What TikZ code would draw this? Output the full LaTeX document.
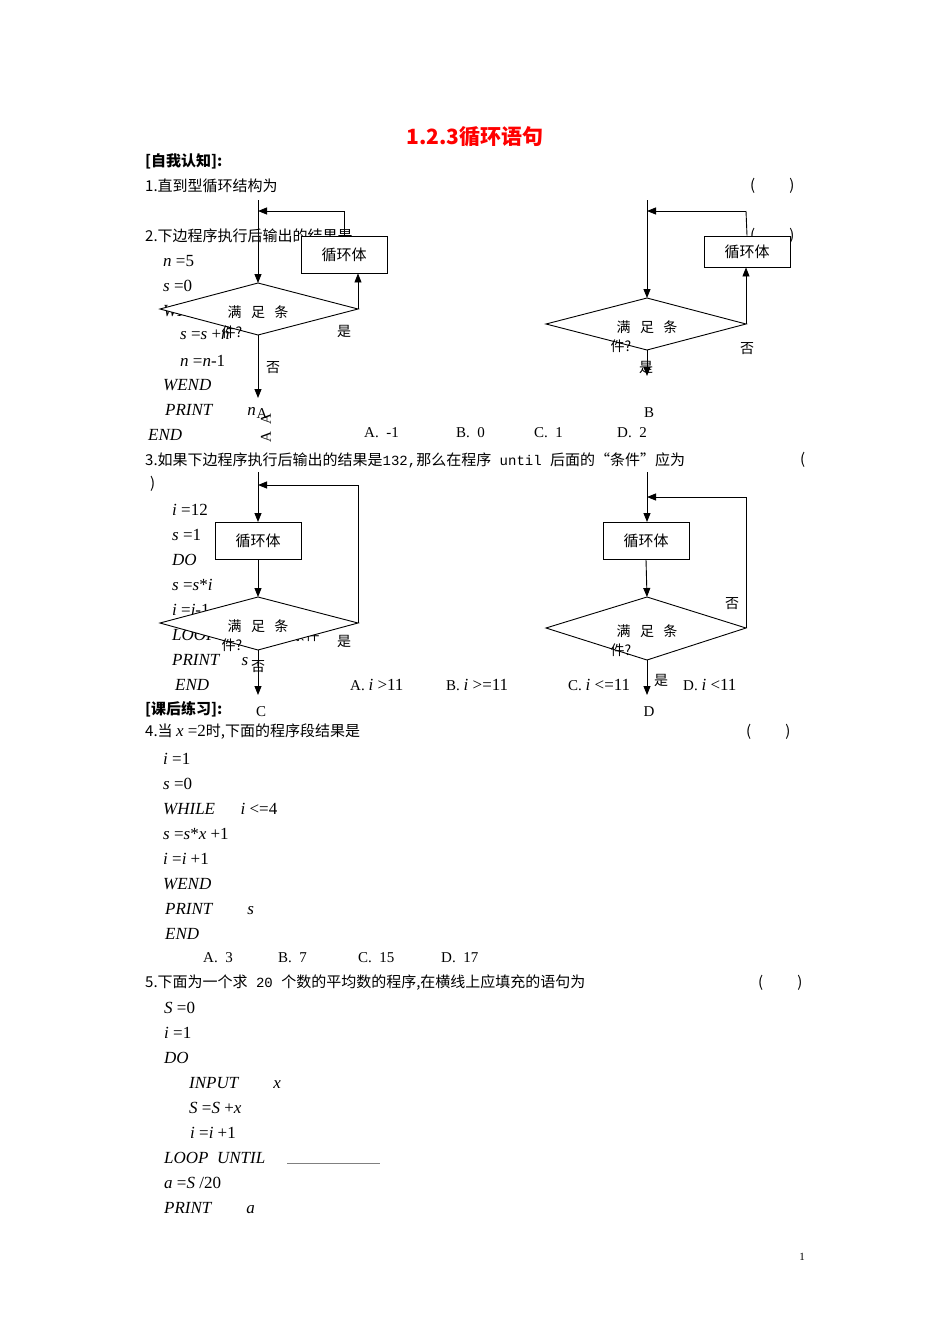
\documentclass[tikz,border=0pt]{standalone}
\usepackage{fontspec}
\setmainfont{Noto Sans CJK SC}
\newfontfamily\tms{Liberation Serif}
\newfontfamily\mon{Liberation Mono}
\newcommand{\vi}[1]{\textit{#1}}
\usetikzlibrary{arrows.meta}
\begin{document}
\begin{tikzpicture}[x=1pt,y=-1pt,
  txt/.style={anchor=west,inner sep=0pt,font=\fontsize{15}{17}\selectfont},
  cd/.style={anchor=west,inner sep=0pt,font=\fontsize{17}{19}\tms\selectfont},
  bx/.style={draw,fill=white,line width=0.9pt,minimum width=86pt,minimum height=37pt,inner sep=0pt,font=\fontsize{15}{17}\selectfont},
  dm/.style={draw,fill=white,line width=0.9pt},
  ln/.style={line width=0.9pt},
  ar/.style={line width=0.9pt,-{Triangle[length=9pt,width=7pt]}},
  lb/.style={inner sep=0pt,font=\fontsize{14}{16}\selectfont},
  lt/.style={inner sep=0pt,font=\fontsize{15}{17}\tms\selectfont}]
\useasboundingbox (0,0) rectangle (950,1344);
\node[inner sep=0pt,text=red,font=\fontsize{21}{23}\selectfont\bfseries] (title) at (475,137) {1.2.3循环语句};
\node[txt,font=\fontsize{15}{17}\selectfont\bfseries] (h1) at (145,161) {[自我认知]:};
\node[txt] (q1) at (145,186) {1.直到型循环结构为};
\node[txt] (p1) at (750,186) {(\hspace{34pt})};
\node[txt] (q2) at (145,236) {2.下边程序执行后输出的结果是};
\node[txt] (p2) at (750,236) {(\hspace{34pt})};
\node[cd] (c1) at (163,261) {\vi{n} =5};
\node[cd] (c2) at (163,286) {\vi{s} =0};
\node[cd] (c3) at (163,311) {\vi{WHILE}\quad \vi{i} {\rmfamily >}0};
% flowchart A
\draw[ar] (258,200) -- (258,283);
\path[dm] (160,309) -- (258,283) -- (358,309) -- (258,335) -- cycle;
\node[bx] (boxA) at (344,254.5) {循环体};
\coordinate (ra) at (358,309);
\draw[ar] (ra) -- (boxA.south -| ra);
\coordinate (ta) at (344,211);
\draw[ln] (boxA.north) -- (ta);
\coordinate (la) at (258,211);
\draw[ar] (ta) -- (la);
\node[lb] (dA1) at (258,312) {满\ \ \ 足\ \ \ 条};
\node[lb] (dA2) at (232,332) {件?};
\node[cd] (c4) at (180,335) {\vi{s} =\vi{s} +\vi{n}};
\node[cd] (c5) at (180,361) {\vi{n} =\vi{n}-1};
\draw[ar] (258,335) -- (258,398);
\node[lb] (nA) at (273,368) {否};
\node[lb] (yA) at (344,331) {是};
\node[cd] (c6) at (163,385) {\vi{WEND}};
\node[cd] (c7) at (165,410) {\vi{PRINT}\qquad \vi{n}};
\node[lt] (A) at (262,414) {A};
\node[lt,rotate=90] (Ar) at (266,428) {A\ \ A};
\node[cd] (c8) at (148,435) {\vi{END}};
\node[lt,anchor=west] (a2a) at (364,433) {A.\ \ -1};
\node[lt,anchor=west] (a2b) at (456,433) {B.\ \ 0};
\node[lt,anchor=west] (a2c) at (534,433) {C.\ \ 1};
\node[lt,anchor=west] (a2d) at (617,433) {D.\ \ 2};
% flowchart B
\draw[ar] (647,200) -- (647,298);
\path[dm] (546,324) -- (647,298) -- (746,324) -- (647,350) -- cycle;
\node[bx,minimum height=31pt] (boxB) at (747,251.5) {循环体};
\coordinate (rb) at (746,324);
\draw[ar] (rb) -- (boxB.south -| rb);
\coordinate (tb) at (746,211);
\draw[ln] (boxB.north) -- (tb);
\coordinate (lb) at (647,211);
\draw[ar] (tb) -- (lb);
\node[lb] (dB1) at (647,327) {满\ \ \ 足\ \ \ 条};
\node[lb] (dB2) at (621,346) {件?};
\draw[ar] (647,350) -- (647,376);
\node[lb] (yB) at (646,367) {是};
\node[lb] (nB) at (747,349) {否};
\node[lt] (B) at (649,413) {B};
% question 3
\node[txt] (q3) at (145,460) {3.如果下边程序执行后输出的结果是{\mon\fontsize{14}{16}\selectfont132,}那么在程序{\mon\fontsize{14}{16}\selectfont\ until\ }后面的“条件”应为};
\node[txt] (p3a) at (800,460) {(};
\node[txt] (p3b) at (150,484) {)};
\node[cd] (d1) at (172,510) {\vi{i} =12};
\node[cd] (d2) at (172,535) {\vi{s} =1};
\node[cd] (d3) at (172,560) {\vi{DO}};
\node[cd] (d4) at (172,585) {\vi{s} =\vi{s}*\vi{i}};
\node[cd] (d5) at (172,610) {\vi{i} =\vi{i}-1};
\node[cd] (d6) at (172,635) {\vi{LOOP UNTIL}\ \ {\rmfamily\fontsize{14}{16}\selectfont “条件”}};
% flowchart C
\draw[ar] (258,472) -- (258,522);
\node[bx] (boxC) at (258,540.5) {循环体};
\draw[ar] (boxC.south) -- (258,597);
\path[dm] (160,623) -- (258,597) -- (358,623) -- (258,650) -- cycle;
\coordinate (rc) at (358,623);
\coordinate (tc) at (358,485);
\coordinate (lc) at (258,485);
\draw[ln] (rc) -- (tc);
\draw[ar] (tc) -- (lc);
\node[lb] (dC1) at (258,626) {满\ \ \ 足\ \ \ 条};
\node[lb] (dC2) at (232,645) {件?};
\node[lb] (yC) at (344,641) {是};
\node[cd] (d7) at (172,660) {\vi{PRINT}\quad\ \vi{s}};
\draw[ar] (258,650) -- (258,695);
\node[lb] (nC) at (258,667) {否};
\node[cd] (d8) at (175,685) {\vi{END}};
\node[lt] (C) at (261,712) {C};
\node[lt,anchor=west] (a3a) at (350,685) {A.\ {\fontsize{17}{19}\selectfont\vi{i} >11}};
\node[lt,anchor=west] (a3b) at (446,685) {B.\ {\fontsize{17}{19}\selectfont\vi{i} >=11}};
\node[lt,anchor=west] (a3c) at (568,685) {C.\ {\fontsize{17}{19}\selectfont\vi{i} <=11}};
\node[lt,anchor=west] (a3d) at (683,685) {D.\ {\fontsize{17}{19}\selectfont\vi{i} <11}};
% flowchart D
\draw[ar] (647,472) -- (647,522);
\node[bx] (boxD) at (646,540.5) {循环体};
\draw[ar] (boxD.south) -- (647,597);
\path[dm] (546,628) -- (647,597) -- (746,628) -- (647,660) -- cycle;
\coordinate (rd) at (746,628);
\coordinate (td) at (746,497);
\coordinate (ld) at (647,497);
\draw[ln] (rd) -- (td);
\draw[ar] (td) -- (ld);
\node[lb] (dD1) at (647,631) {满\ \ \ 足\ \ \ 条};
\node[lb] (dD2) at (621,650) {件?};
\node[lb] (nD) at (732,604) {否};
\draw[ar] (647,660) -- (647,695);
\node[lb] (yD) at (661,680) {是};
\node[lt] (D) at (649,712) {D};
% section 2
\node[txt,font=\fontsize{15}{17}\selectfont\bfseries] (h2) at (145,709) {[课后练习]:};
\node[txt] (q4) at (145,732) {4.当 {\tms\fontsize{17}{19}\selectfont\vi{x} =2}时,下面的程序段结果是};
\node[txt] (p4) at (746,732) {(\hspace{34pt})};
\node[cd] (e1) at (163,759) {\vi{i} =1};
\node[cd] (e2) at (163,784) {\vi{s} =0};
\node[cd] (e3) at (163,809) {\vi{WHILE}\quad\ \ \vi{i} <=4};
\node[cd] (e4) at (163,834) {\vi{s} =\vi{s}*\vi{x} +1};
\node[cd] (e5) at (163,859) {\vi{i} =\vi{i} +1};
\node[cd] (e6) at (163,884) {\vi{WEND}};
\node[cd] (e7) at (165,909) {\vi{PRINT}\qquad \vi{s}};
\node[cd] (e8) at (165,934) {\vi{END}};
\node[lt,anchor=west] (a4a) at (203,958) {A.\ \ 3};
\node[lt,anchor=west] (a4b) at (278,958) {B.\ \ 7};
\node[lt,anchor=west] (a4c) at (358,958) {C.\ \ 15};
\node[lt,anchor=west] (a4d) at (441,958) {D.\ \ 17};
\node[txt] (q5) at (145,983) {5.下面为一个求{\mon\fontsize{14}{16}\selectfont\ 20\ }个数的平均数的程序,在横线上应填充的语句为};
\node[txt] (p5) at (758,983) {(\hspace{34pt})};
\node[cd] (f1) at (164,1008) {\vi{S} =0};
\node[cd] (f2) at (164,1033) {\vi{i} =1};
\node[cd] (f3) at (164,1058) {\vi{DO}};
\node[cd] (f4) at (189,1083) {\vi{INPUT}\qquad \vi{x}};
\node[cd] (f5) at (189,1108) {\vi{S} =\vi{S} +\vi{x}};
\node[cd] (f6) at (190,1133) {\vi{i} =\vi{i} +1};
\node[cd] (f7) at (164,1158) {\vi{LOOP}\ \ \vi{UNTIL}};
\coordinate (u1) at (287,1163);
\coordinate (u2) at (380,1163);
\draw[line width=0.4pt,gray] (u1) -- (u2);
\node[cd] (f8) at (164,1183) {\vi{a} =\vi{S} /20};
\node[cd] (f9) at (164,1208) {\vi{PRINT}\qquad \vi{a}};
\node[inner sep=0pt,font=\fontsize{11}{12}\tms\selectfont] (pg) at (802,1257) {1};
\end{tikzpicture}
\end{document}
